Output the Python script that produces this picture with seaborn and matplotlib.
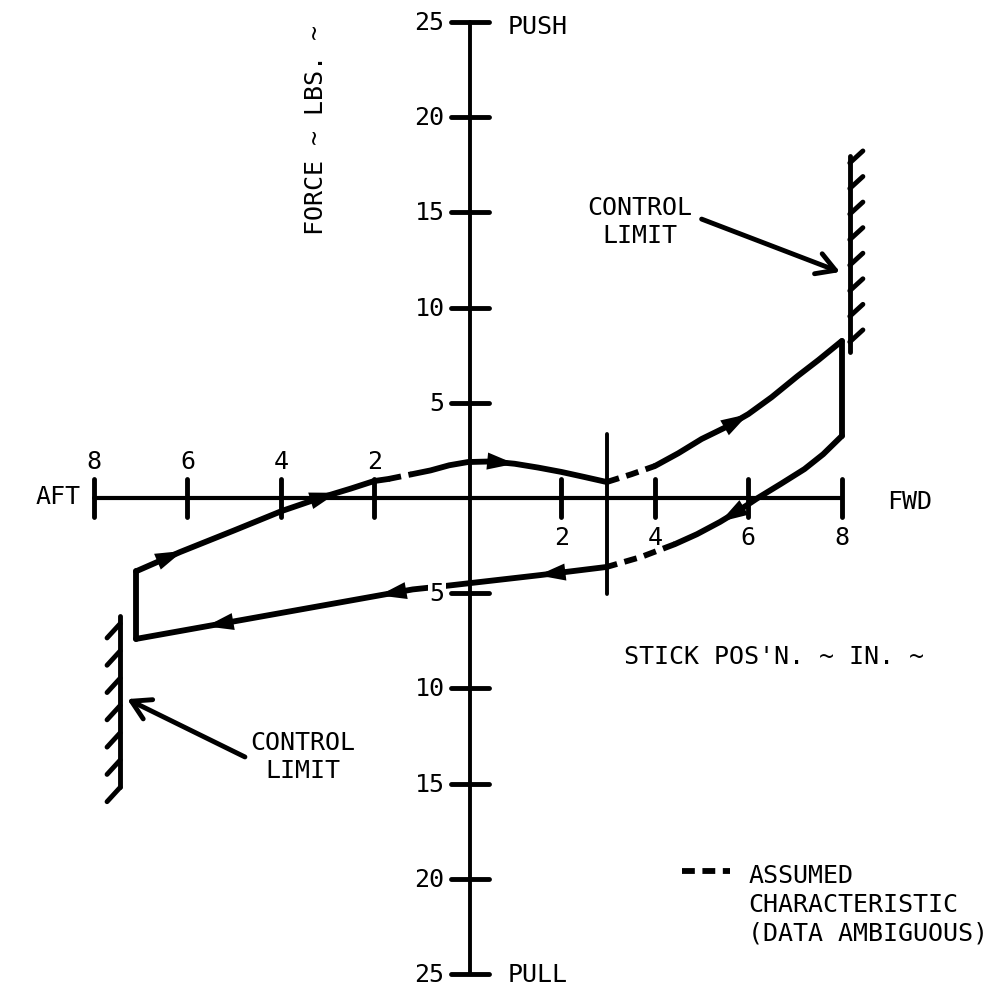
import numpy as np
import matplotlib
matplotlib.use('Agg')
import matplotlib.pyplot as plt
import seaborn as sns

# -----------------------------------
# DATA  (stick position in., force lbs.)
# -----------------------------------
# forward stroke, aft part (solid)
fwd_aft_x = [-7.1, -6.16, -5.0, -3.98, -3.17, -2.5, -2.01, -1.7]
fwd_aft_y = [-3.85, -2.84, -1.7, -0.68, 0.0, 0.5, 0.89, 1.0]
# small assumed gap
gap1_x = [-1.7, -1.2]
gap1_y = [1.0, 1.25]
# forward stroke, centre part (solid)
fwd_mid_x = [-1.2, -0.8, -0.4, 0.0, 0.5, 1.0, 1.5, 2.0, 2.5, 2.97]
fwd_mid_y = [1.25, 1.45, 1.72, 1.89, 1.92, 1.8, 1.6, 1.37, 1.1, 0.84]
# assumed part beyond the breakout
gap2_x = [2.97, 3.5, 4.0]
gap2_y = [0.84, 1.25, 1.68]
# forward stroke up to the stop
fwd_end_x = [4.0, 4.5, 5.0, 5.5, 6.0, 6.5, 7.05, 7.5, 8.0]
fwd_end_y = [1.68, 2.35, 3.1, 3.7, 4.41, 5.3, 6.4, 7.25, 8.25]
# drop at the forward stop
fwd_stop_x = [8.0, 8.0]
fwd_stop_y = [8.25, 3.26]
# return stroke (solid)
ret_x = [8.0, 7.6, 7.2, 6.7, 6.2, 5.8, 5.39, 4.9, 4.43]
ret_y = [3.26, 2.3, 1.52, 0.75, 0.0, -0.65, -1.26, -1.9, -2.42]
# return stroke assumed
gap3_x = [4.43, 3.7, 2.97]
gap3_y = [-2.42, -3.1, -3.62]
# aft stroke
aft_x = [2.97, 1.54, -0.49, -1.18, -7.1]
aft_y = [-3.62, -4.05, -4.62, -4.8, -7.4]
# rise at the aft stop
aft_stop_x = [-7.1, -7.1]
aft_stop_y = [-7.4, -3.85]

# breakout line at 3 in.
breakout_x = 2.97
breakout_y = [3.36, -5.05]

# control limits (stops)
limit_fwd_x = 8.17
limit_fwd_y = [7.67, 17.96]
limit_aft_x = -7.44
limit_aft_y = [-6.2, -15.2]

# arrow positions along each branch
arrows_fwd_aft = [-6.1, -2.8]
arrows_fwd_mid = [1.0]
arrows_fwd_end = [6.0]
arrows_ret = [5.4]
arrows_aft = [1.5, -1.9, -5.6]

x_ticks = [-8, -6, -4, -2, 2, 4, 6, 8]
y_ticks = [-25, -20, -15, -10, -5, 5, 10, 15, 20, 25]

# -----------------------------------
# VISUAL SETTINGS
# -----------------------------------
sns.set_style('white')
plt.rcParams['font.family'] = ['DejaVu Sans Mono', 'DejaVu Sans']
plt.rcParams['text.color'] = 'black'
FS = 18
LW = 4.2
DASH = (0, (2.2, 1.3))

fig = plt.figure(figsize=(10.05, 9.95), dpi=100)
ax = fig.add_axes([0, 0, 1, 1])
ax.set_xlim(-10.01, 11.49)
ax.set_ylim(-26.05, 26.21)
ax.set_axis_off()

# -----------------------------------
# AXES
# -----------------------------------
sns.lineplot(x=[-8, 8], y=[0, 0], color='black', lw=3, ax=ax)
sns.lineplot(x=[0.04, 0.04], y=[-25, 25], color='black', lw=2.8,
             sort=False, estimator=None, ax=ax)
for t in x_ticks:
    ax.plot([t, t], [-1.0, 1.0], color='black', lw=3.5, solid_capstyle='round')
    if t < 0:
        ax.text(t, 1.95, str(abs(t)), fontsize=FS, ha='center', va='center')
    else:
        ax.text(t, -2.05, str(t), fontsize=FS, ha='center', va='center')
for t in y_ticks:
    ax.plot([-0.36, 0.46], [t, t], color='black', lw=3.5, solid_capstyle='round')
    ax.text(-0.5, t, str(abs(t)), fontsize=FS, ha='right', va='center', zorder=5,
            bbox=dict(facecolor='white', edgecolor='none', pad=1))

ax.text(0.86, 24.8, 'PUSH', fontsize=FS, ha='left', va='center')
ax.text(0.86, -25.0, 'PULL', fontsize=FS, ha='left', va='center')
ax.text(-8.77, 0.1, 'AFT', fontsize=FS, ha='center', va='center')
ax.text(9.45, -0.15, 'FWD', fontsize=FS, ha='center', va='center')
ax.text(-3.25, 19.4, 'FORCE ~ LBS. ~', fontsize=FS, rotation=90,
        ha='center', va='center')
ax.text(6.55, -8.3, "STICK POS'N. ~ IN. ~", fontsize=FS, ha='center', va='center')

# -----------------------------------
# FORCE / POSITION LOOP
# -----------------------------------
solid = [(fwd_aft_x, fwd_aft_y), (fwd_mid_x, fwd_mid_y), (fwd_end_x, fwd_end_y),
         (fwd_stop_x, fwd_stop_y), (ret_x, ret_y), (aft_x, aft_y),
         (aft_stop_x, aft_stop_y)]
dashed = [(gap1_x, gap1_y), (gap2_x, gap2_y), (gap3_x, gap3_y)]

for xs, ys in solid:
    sns.lineplot(x=xs, y=ys, color='black', lw=LW, sort=False, estimator=None,
                 solid_joinstyle='round', ax=ax)
for xs, ys in dashed:
    sns.lineplot(x=xs, y=ys, color='black', lw=LW, sort=False, estimator=None,
                 linestyle=DASH, ax=ax)

sns.lineplot(x=[breakout_x, breakout_x], y=breakout_y, color='black', lw=2.8,
             sort=False, estimator=None, ax=ax)


def add_arrows(xs, ys, positions):
    xs = np.asarray(xs)
    ys = np.asarray(ys)
    order = np.argsort(xs)
    step = 0.15 if xs[-1] > xs[0] else -0.15
    for p in positions:
        y1 = np.interp(p, xs[order], ys[order])
        y0 = np.interp(p - step, xs[order], ys[order])
        ax.annotate('', xy=(p, y1), xytext=(p - step, y0),
                    arrowprops=dict(arrowstyle='-|>,head_length=0.9,head_width=0.28',
                                    mutation_scale=22, color='black', lw=0,
                                    shrinkA=0, shrinkB=0))


add_arrows(fwd_aft_x, fwd_aft_y, arrows_fwd_aft)
add_arrows(fwd_mid_x, fwd_mid_y, arrows_fwd_mid)
add_arrows(fwd_end_x, fwd_end_y, arrows_fwd_end)
add_arrows(ret_x, ret_y, arrows_ret)
add_arrows(aft_x, aft_y, arrows_aft)

# -----------------------------------
# CONTROL LIMITS
# -----------------------------------
ax.plot([limit_fwd_x, limit_fwd_x], limit_fwd_y, color='black', lw=3.5)
for h in np.linspace(8.2, 17.6, 8):
    ax.plot([limit_fwd_x, limit_fwd_x + 0.28], [h, h + 0.63], color='black',
            lw=3.5, solid_capstyle='round')
ax.plot([limit_aft_x, limit_aft_x], limit_aft_y, color='black', lw=3.5)
for h in np.linspace(-6.6, -15.2, 7):
    ax.plot([limit_aft_x, limit_aft_x - 0.28], [h, h - 0.75], color='black',
            lw=3.5, solid_capstyle='round')

arrow_kw = dict(arrowstyle='->,head_length=0.6,head_width=0.35',
                mutation_scale=22, color='black', lw=3.5, shrinkA=0, shrinkB=0)
ax.text(3.68, 14.55, 'CONTROL\nLIMIT', fontsize=FS, ha='center', va='center',
        multialignment='center', linespacing=1.2)
ax.annotate('', xy=(7.96, 11.87), xytext=(5.0, 14.65), arrowprops=arrow_kw)
ax.text(-3.53, -13.53, 'CONTROL\nLIMIT', fontsize=FS, ha='center', va='center',
        multialignment='center', linespacing=1.2)
ax.annotate('', xy=(-7.29, -10.56), xytext=(-4.77, -13.6), arrowprops=arrow_kw)

# -----------------------------------
# LEGEND NOTE
# -----------------------------------
ax.plot([4.58, 5.6], [-19.6, -19.6], color='black', lw=LW, linestyle=DASH)
ax.text(6.0, -21.3, 'ASSUMED\nCHARACTERISTIC\n(DATA AMBIGUOUS)', fontsize=FS,
        ha='left', va='center', linespacing=1.25)

fig.savefig('out.png', dpi=100)
